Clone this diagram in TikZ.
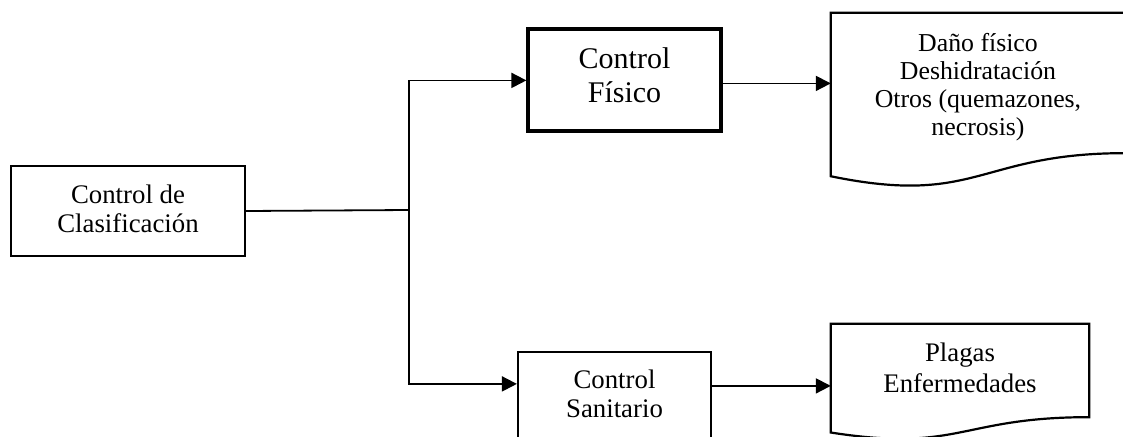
\documentclass[tikz,border=0pt]{standalone}
\usepackage{fontspec}
\setmainfont{Liberation Serif}
\usetikzlibrary{calc,arrows.meta}

% outline of a flowchart "document" shape over a rectangular node
\newcommand\docoutline[1]{%
  \draw[docline] (#1.north west) -- (#1.north east)
    -- ($(#1.north east)!0.802!(#1.south east)$)
    .. controls ($(#1.north)!0.802!(#1.south)$) and ($(#1.north)!1.1075!(#1.south)$)
    .. ($(#1.north west)!0.934!(#1.south west)$) -- cycle;}

\begin{document}
\begin{tikzpicture}[x=1pt,y=-1pt,
  box/.style={draw,line width=2.2pt,rectangle,inner sep=0pt,align=center,text depth=0pt},
  docarea/.style={rectangle,inner sep=0pt,align=center,text depth=0pt},
  docline/.style={line width=2.2pt},
  conn/.style={line width=1.8pt},
  arr/.style={conn,-{Triangle[length=15pt,width=15pt]}},
  txt/.style={font=\fontsize{26.8}{29}\selectfont}]

\useasboundingbox (0,0) rectangle (1123,436);

% boxes
\node[box,txt,minimum width=234pt,minimum height=90pt,text height=42pt]
  (clas) at (128,211) {Control de\\Clasificación};
\node[box,line width=3.2pt,font=\fontsize{30}{34}\selectfont,
  minimum width=193pt,minimum height=102pt,text height=44pt]
  (fis) at (624.5,80) {Control\\Físico};
\node[box,txt,minimum width=193pt,minimum height=89pt,text height=41pt]
  (san) at (614.5,396.5) {Control\\Sanitario};

% document shapes
\node[docarea,font=\fontsize{25.8}{28}\selectfont,
  minimum width=294pt,minimum height=174.6pt,text height=69.4pt]
  (dano) at (978,100.3) {Daño físico\\Deshidratación\\Otros (quemazones,\\necrosis)};
\docoutline{dano}
\node[docarea,font=\fontsize{26.8}{31}\selectfont,
  minimum width=258pt,minimum height=116pt,text height=20pt]
  (plg) at (960,382) {Plagas\\Enfermedades};
\docoutline{plg}

% connectors
\coordinate (bus) at (409,210);
\draw[conn] (clas.east) -- (bus);
\draw[arr] (bus) |- ([yshift=-53pt]fis.north west);
\draw[arr] (bus) |- ([yshift=-33pt]san.north west);
\draw[arr] ([yshift=-56pt]fis.north east) coordinate (fo) -- (fo -| dano.west);
\draw[arr] ([yshift=-35pt]san.north east) coordinate (so) -- (so -| plg.west);
\end{tikzpicture}
\end{document}
